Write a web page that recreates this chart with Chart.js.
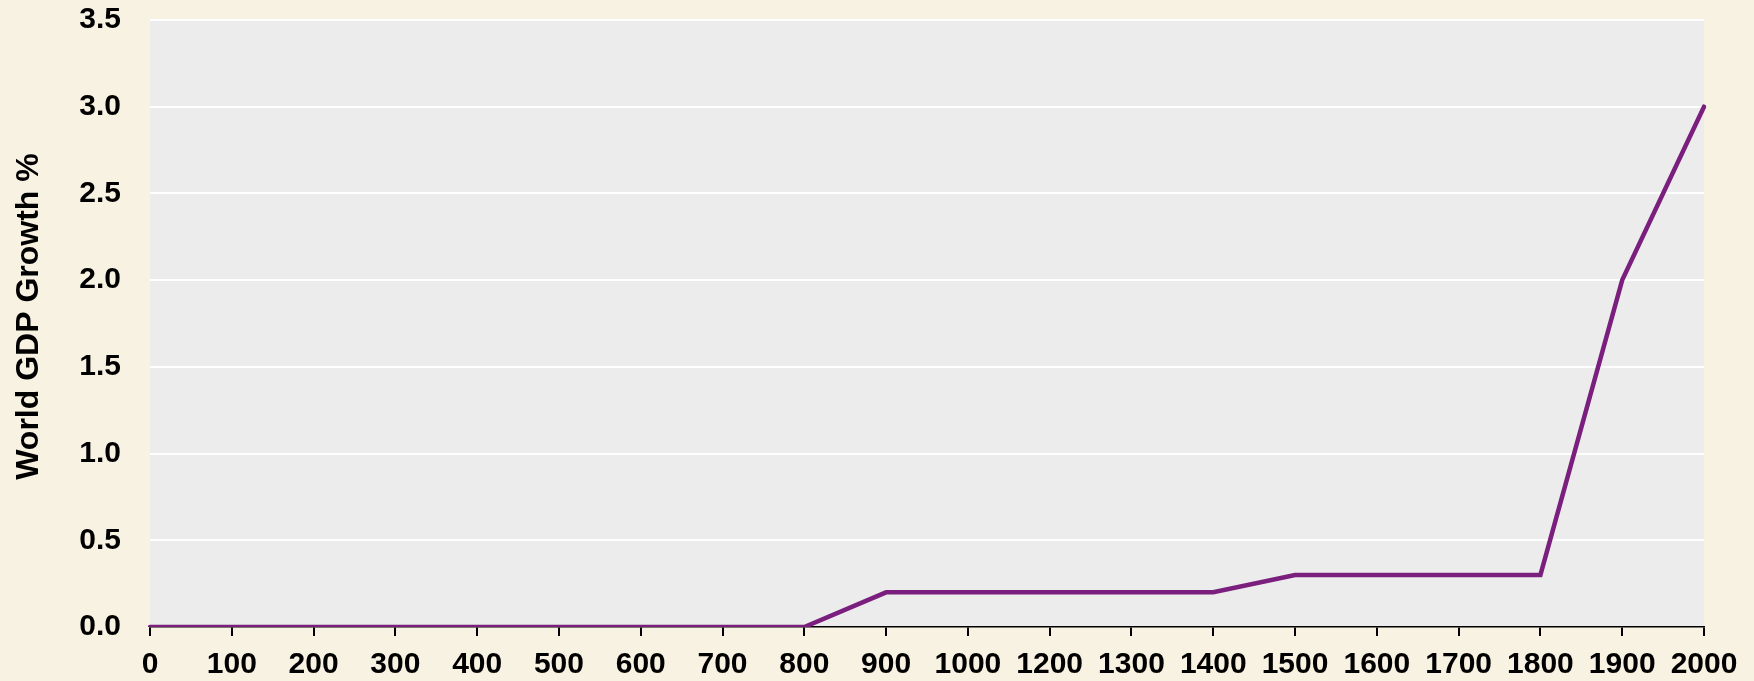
<!DOCTYPE html>
<html>
<head>
<meta charset="utf-8">
<script src="https://cdn.jsdelivr.net/npm/chart.js@4/dist/chart.umd.min.js"></script>
<style>
  html, body { margin: 0; padding: 0; background: #F8F2E2; }
  #wrap { width: 1754px; height: 681px; position: relative; }
  canvas { display: block; }
</style>
</head>
<body>
<div id="wrap"><canvas id="chart" width="1754" height="681"></canvas></div>
<script>
// Years on the category axis (note: 1100 is not part of the series)
const years = ['0', '100', '200', '300', '400', '500', '600', '700', '800', '900',
               '1000', '1200', '1300', '1400', '1500', '1600', '1700', '1800', '1900', '2000'];

// World GDP growth, percent per year
const gdpGrowth = [0, 0, 0, 0, 0, 0, 0, 0, 0, 0.2,
                   0.2, 0.2, 0.2, 0.2, 0.3, 0.3, 0.3, 0.3, 2.0, 3.0];

// Value axis range and step
const yMin = 0;
const yMax = 3.5;
const yStep = 0.5;

const axisTitle = 'World GDP Growth %';

const FONT_FAMILY = '"Liberation Sans", Arial, Helvetica, sans-serif';

// Grey panel behind the plotting area
const plotBackground = {
  id: 'plotBackground',
  beforeDraw(chart) {
    const { ctx, chartArea } = chart;
    if (!chartArea) return;
    ctx.save();
    ctx.fillStyle = '#EBECEB';
    ctx.fillRect(chartArea.left, chartArea.top, chartArea.right - chartArea.left, chartArea.bottom - chartArea.top);
    ctx.restore();
  }
};

// Rotated value-axis title, sitting slightly above the plot's vertical centre
const valueAxisTitle = {
  id: 'valueAxisTitle',
  afterDraw(chart) {
    const { ctx, chartArea } = chart;
    if (!chartArea) return;
    const cy = (chartArea.top + chartArea.bottom) / 2 - 7;
    ctx.save();
    ctx.translate(29, cy);
    ctx.rotate(-Math.PI / 2);
    ctx.font = 'bold 32px ' + FONT_FAMILY;
    ctx.fillStyle = '#000000';
    ctx.textAlign = 'center';
    ctx.textBaseline = 'middle';
    ctx.fillText(axisTitle, 0, 0);
    ctx.restore();
  }
};

new Chart(document.getElementById('chart'), {
  type: 'line',
  data: {
    labels: years,
    datasets: [{
      data: gdpGrowth,
      borderColor: '#7B1F7F',
      borderWidth: 4.5,
      borderCapStyle: 'round',
      borderJoinStyle: 'miter',
      pointRadius: 0,
      pointHoverRadius: 0,
      tension: 0,
      fill: false
    }]
  },
  options: {
    responsive: false,
    animation: false,
    devicePixelRatio: 1,
    layout: { padding: { left: 0, right: 50, top: 20, bottom: 0 } },
    plugins: {
      legend: { display: false },
      tooltip: { enabled: false }
    },
    scales: {
      x: {
        type: 'category',
        offset: false,
        afterFit(scale) { scale.height = 54; },
        grid: {
          display: true,
          drawOnChartArea: false,
          drawTicks: true,
          tickLength: 9,
          color: '#000000',
          lineWidth: 2
        },
        border: { display: true, color: '#000000', width: 1.5 },
        ticks: {
          autoSkip: false,
          maxRotation: 0,
          minRotation: 0,
          padding: 11,
          color: '#000000',
          font: { family: FONT_FAMILY, size: 30, weight: 'bold' }
        }
      },
      y: {
        min: yMin,
        max: yMax,
        afterFit(scale) { scale.width = 150; },
        grid: {
          display: true,
          drawTicks: true,
          tickLength: 29,
          tickColor: 'rgba(0,0,0,0)',
          color: (ctx) => (ctx.tick && ctx.tick.value === 0) ? 'rgba(0,0,0,0)' : '#FFFFFF',
          lineWidth: 2
        },
        border: { display: false },
        title: { display: false },
        ticks: {
          stepSize: yStep,
          padding: 0,
          color: '#000000',
          font: { family: FONT_FAMILY, size: 30, weight: 'bold' },
          callback: (v) => Number(v).toFixed(1)
        }
      }
    }
  },
  plugins: [plotBackground, valueAxisTitle]
});
</script>
</body>
</html>
